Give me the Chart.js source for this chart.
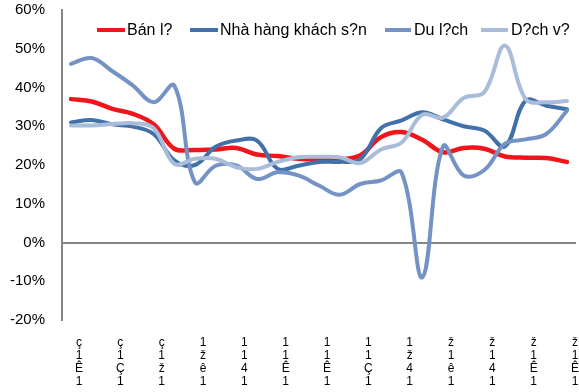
<!DOCTYPE html>
<html>
<head>
<meta charset="utf-8">
<script src="https://cdn.jsdelivr.net/npm/chart.js@4.4.1/dist/chart.umd.min.js"></script>
<style>
  html, body { margin: 0; padding: 0; background: #fff; }
  #wrap { position: relative; width: 579px; height: 392px; overflow: hidden; }
  .leg { position: absolute; font: 16px "Liberation Sans", Arial, sans-serif; color: #000; line-height: 18px; top: 21px; white-space: nowrap; }
  .sw { position: absolute; height: 4px; top: 28px; }
</style>
</head>
<body>
<div id="wrap">
  <canvas id="chart"></canvas>
  <div id="legend"></div>
</div>
<script>
// Data (monthly, labels every 2nd month)
const tickLabels = [
  ['ç','1','Ê','1'], ['ç','1','Ç','1'], ['ç','1','ž','1'], ['1','ž','ê','1'], ['1','1','4','1'],
  ['1','1','Ê','1'], ['1','1','Ê','1'], ['1','1','Ç','1'], ['1','ž','4','1'], ['ž','1','ê','1'],
  ['ž','1','4','1'], ['ž','1','Ê','1'], ['ž','1','Ê','1']
];

const seriesNames = ['Bán l?', 'Nhà hàng khách s?n', 'Du l?ch', 'D?ch v?'];
const seriesColors = ['#f0141c', '#4270a8', '#7493c4', '#a9bcda'];

const banLe = [37, 36.4, 34.5, 33.2, 30.5, 24.2, 23.9, 24, 24.4, 22.7, 22.3, 21.6, 21.4,
  21.4, 22.5, 27.2, 28.5, 26.5, 23.3, 24.4, 24.2, 22.2, 21.9, 21.8, 20.8];
const nhaHang = [31, 31.6, 30.5, 29.9, 28, 21.2, 20, 24.7, 26.3, 26.3, 19, 19.8, 20.8,
  20.8, 21.5, 29.5, 31.5, 33.6, 31.8, 30, 28.9, 24.8, 36.6, 35.3, 34.4];
const duLich = [46.1, 47.6, 44.2, 40.5, 36.2, 40.5, 15.5, 19.8, 19.9, 16.4, 18.1, 17.3, 14.7,
  12.3, 15.1, 16, 18, -9, 24.8, 17.3, 18.7, 25.5, 26.6, 28, 34];
const dichVu = [30.2, 30.2, 30.6, 30.8, 29.5, 20.3, 21.6, 21.6, 19.4, 19, 20.8, 22, 22.1,
  22, 20.5, 24, 25.8, 33, 32.2, 37.3, 38.8, 50.8, 37, 36.2, 36.5];

const yMin = -20, yMax = 60, yStep = 10;

const allSeries = [banLe, nhaHang, duLich, dichVu];

// Legend (drawn inside the plot area, as in the original)
const legendPos = [[97, 125, 127], [190, 218, 220], [385, 411, 414], [481, 508, 511]];
const legend = document.getElementById('legend');
seriesNames.forEach((name, i) => {
  const [x0, x1, tx] = legendPos[i];
  const sw = document.createElement('div');
  sw.className = 'sw';
  sw.style.left = x0 + 'px';
  sw.style.width = (x1 - x0) + 'px';
  sw.style.background = seriesColors[i];
  legend.appendChild(sw);
  const t = document.createElement('div');
  t.className = 'leg';
  t.style.left = tx + 'px';
  t.textContent = name;
  legend.appendChild(t);
});

const datasets = allSeries.map((vals, i) => ({
  label: seriesNames[i],
  data: vals.map((v, k) => ({ x: k, y: v })),
  borderColor: seriesColors[i],
  backgroundColor: seriesColors[i],
  borderWidth: i === 0 ? 4.5 : 4,
  pointRadius: 0,
  tension: 0.38,
  borderCapStyle: 'round',
  borderJoinStyle: 'round',
  fill: false,
  order: allSeries.length - i
}));

new Chart(document.getElementById('chart'), {
  type: 'line',
  data: { datasets },
  options: {
    responsive: true,
    maintainAspectRatio: false,
    animation: false,
    layout: { padding: { top: 10, right: 2, left: 0, bottom: 0 } },
    plugins: { legend: { display: false }, tooltip: { enabled: false } },
    scales: {
      x: {
        type: 'linear',
        min: -0.435,
        max: 24.435,
        afterBuildTicks: s => { s.ticks = tickLabels.map((_, k) => ({ value: 2 * k })); },
        afterFit: s => { s.height = 72; },
        grid: { display: false },
        border: { display: false },
        ticks: {
          autoSkip: false,
          maxRotation: 0,
          minRotation: 0,
          labelOffset: 8,
          padding: 8,
          color: '#000',
          font: { family: 'Liberation Sans', size: 12, lineHeight: 1.08 },
          callback: v => tickLabels[v / 2]
        }
      },
      y: {
        min: yMin,
        max: yMax,
        afterFit: s => { s.width = 62; s.paddingTop = 0; },
        ticks: {
          stepSize: yStep,
          padding: 17,
          color: '#000',
          font: { family: 'Liberation Sans', size: 15 },
          callback: v => v + '%'
        },
        grid: {
          drawTicks: false,
          lineWidth: 2,
          color: c => c.tick && c.tick.value === 0 ? '#868686' : 'rgba(0,0,0,0)'
        },
        border: { display: true, color: '#868686', width: 2 }
      }
    }
  }
});
</script>
</body>
</html>
